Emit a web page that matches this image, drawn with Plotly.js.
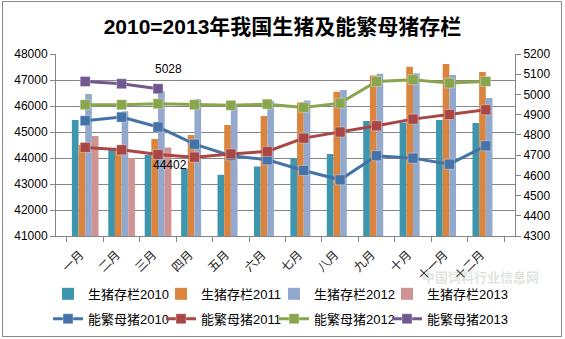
<!DOCTYPE html>
<html><head><meta charset="utf-8">
<script src="https://cdn.plot.ly/plotly-3.0.1.min.js"></script>
<style>
html,body{margin:0;padding:0;background:#fff}
#wrap{position:relative;width:565px;height:339px}
#chart{width:565px;height:339px}
#frame{position:absolute;left:2px;top:1px;width:558px;height:334px;border:1px solid #8a8a8a;pointer-events:none}
</style>
</head><body>
<div id="wrap"><div id="chart"></div><div id="frame"></div></div>
<script>
const months = ['一月','二月','三月','四月','五月','六月','七月','八月','九月','十月','十一月','十二月'];
const hog2010 = [45460, 44310, 44115, 43600, 43360, 43670, 43990, 44150, 45420, 45370, 45460, 45350];
const hog2011 = [44500, 44350, 44730, 44885, 45270, 45615, 46130, 46550, 47170, 47510, 47615, 47310];
const hog2012 = [46460, 45800, 46580, 46260, 46000, 46190, 46210, 46615, 47245, 47255, 47190, 46310];
const hog2013 = [44850, 44000, 44402];
const sow2010 = [4870, 4888, 4839, 4754, 4697, 4677, 4624, 4578, 4697, 4685, 4655, 4746];
const sow2011 = [4738, 4726, 4703, 4690, 4706, 4718, 4784, 4814, 4845, 4878, 4901, 4924];
const sow2012 = [4949, 4949, 4954, 4949, 4946, 4952, 4936, 4957, 5064, 5073, 5056, 5064];
const sow2013 = [5064, 5053, 5028];
const hogNames = ['生猪存栏2010','生猪存栏2011','生猪存栏2012','生猪存栏2013'];
const sowNames = ['能繁母猪2010','能繁母猪2011','能繁母猪2012','能繁母猪2013'];
const labelSow = 5028, labelHog = 44402;

const barColors = ['#3D96AE','#DB843D','#92A8CD','#D19392'];
const lineColors = ['#4572A7','#AA4643','#89A54E','#71588F'];
const FONT = 'Liberation Sans, Arial, Noto Sans CJK SC, sans-serif';

const hogs = [hog2010, hog2011, hog2012, hog2013];
const sows = [sow2010, sow2011, sow2012, sow2013];

const traces = [];
hogs.forEach((vals, i) => {
  traces.push({
    type: 'bar', name: hogNames[i], x: months.slice(0, vals.length), y: vals,
    marker: {color: barColors[i], line: {width: 0}},
    yaxis: 'y', legend: 'legend', legendwidth: i === 3 ? 95 : undefined, hoverinfo: 'skip'
  });
});
sows.forEach((vals, i) => {
  traces.push({
    type: 'scatter', mode: 'lines+markers', name: sowNames[i],
    x: months.slice(0, vals.length), y: vals,
    line: {color: lineColors[i], width: 3},
    marker: {symbol: 'square', size: 10, color: lineColors[i], line: {width: 1, color: 'rgba(255,255,255,0.35)'}},
    yaxis: 'y2', xaxis: 'x', legend: 'legend2', legendwidth: i === 3 ? 95 : undefined, hoverinfo: 'skip'
  });
});

const layout = {
  width: 565, height: 339,
  margin: {l: 56, r: 50, t: 54, b: 102.5, pad: 0, autoexpand: false},
  paper_bgcolor: '#ffffff', plot_bgcolor: '#ffffff',
  font: {family: FONT, size: 12, color: '#000'},
  title: {text: '<b>2010=2013年我国生猪及能繁母猪存栏</b>', font: {family: FONT, size: 21, color: '#000'},
          x: 0.5, xref: 'container', xanchor: 'center', y: 0.92, yref: 'container', yanchor: 'middle'},
  barmode: 'group', bargap: 0.268, bargroupgap: 0,
  showlegend: true,
  xaxis: {type: 'category', categoryorder: 'array', categoryarray: months,
          tickson: 'boundaries', ticks: 'outside', ticklen: 5, tickcolor: '#868686',
          showline: true, linecolor: '#868686', linewidth: 1, showgrid: false, zeroline: false,
          tickangle: -45, ticklabelstandoff: 6, ticklabelshift: -5,
          tickfont: {family: 'Noto Sans CJK SC, sans-serif', size: 12, color: '#222'},
          fixedrange: true},
  yaxis: {range: [41000, 48000], dtick: 1000, tick0: 41000, tickformat: 'd', showgrid: true, gridcolor: '#868686', gridwidth: 1,
          showline: true, linecolor: '#868686', ticks: 'outside', ticklen: 5, tickcolor: '#868686',
          zeroline: false, tickfont: {family: FONT, size: 12, color: '#000'}, fixedrange: true},
  yaxis2: {range: [4300, 5200], dtick: 100, tick0: 4300, tickformat: 'd', overlaying: 'y', side: 'right', showgrid: false,
           showline: true, linecolor: '#868686', ticks: 'outside', ticklen: 5, tickcolor: '#868686',
           zeroline: false, tickfont: {family: FONT, size: 12, color: '#000'}, fixedrange: true},
  legend: {orientation: 'h', x: -0.0174, xanchor: 'left', y: -0.318, yanchor: 'middle',
           entrywidth: 68, entrywidthmode: 'pixels', font: {family: FONT, size: 13, color: '#000'},
           bgcolor: 'rgba(0,0,0,0)', traceorder: 'normal'},
  legend2: {orientation: 'h', x: -0.0174, xanchor: 'left', y: -0.455, yanchor: 'middle',
            entrywidth: 68, entrywidthmode: 'pixels', font: {family: FONT, size: 13, color: '#000'},
            bgcolor: 'rgba(0,0,0,0)', traceorder: 'normal'},
  annotations: [
    {x: 2, y: labelSow, xref: 'x', yref: 'y2', text: String(labelSow), showarrow: false,
     xshift: 10, yshift: 20, font: {family: FONT, size: 12, color: '#000'}},
    {x: 2, y: labelHog, xref: 'x', yref: 'y', text: String(labelHog), showarrow: false,
     xshift: 12, yshift: -17, font: {family: FONT, size: 12, color: '#000'}},
    {x: 0.924, y: -0.222, xref: 'paper', yref: 'paper', text: '<b>中国饲料行业信息网</b>', showarrow: false,
     xanchor: 'center', yanchor: 'middle',
     font: {family: 'Noto Sans CJK SC, sans-serif', size: 13, color: 'rgba(160,175,160,0.35)'}}
  ]
};

Plotly.newPlot('chart', traces, layout, {staticPlot: true, displayModeBar: false});
</script>
</body></html>
